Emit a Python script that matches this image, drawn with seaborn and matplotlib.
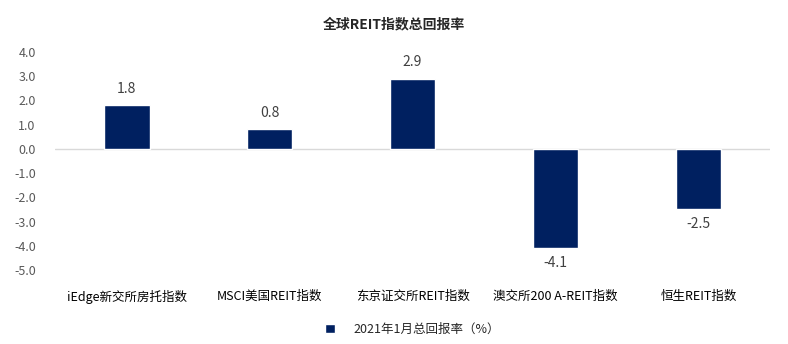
import matplotlib
matplotlib.use("Agg")
import matplotlib.pyplot as plt
import seaborn as sns
import pandas as pd

categories = ["iEdge新交所房托指数", "MSCI美国REIT指数", "东京证交所REIT指数", "澳交所200 A-REIT指数", "恒生REIT指数"]
values = [1.8, 0.8, 2.9, -4.1, -2.5]
series_name = "2021年1月总回报率（%）"
title = "全球REIT指数总回报率"
yticks = [4.0, 3.0, 2.0, 1.0, 0.0, -1.0, -2.0, -3.0, -4.0, -5.0]

sns.set_theme(style="white")
plt.rcParams['font.family'] = ['Noto Sans CJK SC', 'DejaVu Sans']

df = pd.DataFrame({"cat": categories, "val": values, "series": [series_name] * len(values)})

fig = plt.figure(figsize=(7.88, 3.44), dpi=100)
ax = fig.add_axes([0.07, 0.215, 0.907, 0.634])
sns.barplot(data=df, x="cat", y="val", hue="series", palette=["#002060"], saturation=1,
            width=0.32, ax=ax, legend=True)

ax.set_ylim(-5, 4)
ax.set_xlim(-0.5, 4.5)
ax.set_yticks(yticks)
ax.set_yticklabels([f"{t:.1f}" for t in yticks], fontsize=9, color="#595959")
ax.tick_params(axis="x", length=0, labelsize=9, colors="#000000", pad=14)
ax.tick_params(axis="y", length=0, pad=14)
ax.set_xlabel("")
ax.set_ylabel("")
for s in ax.spines.values():
    s.set_visible(False)
ax.axhline(0, color="#d9d9d9", lw=1, zorder=0)

for cont in ax.containers:
    for bar, v in zip(cont, values):
        x = bar.get_x() + bar.get_width() / 2
        if v >= 0:
            ax.text(x, v + 0.4, f"{v:.1f}", ha="center", va="bottom", fontsize=10, color="#404040")
        else:
            ax.text(x, v - 0.3, f"{v:.1f}", ha="center", va="top", fontsize=10, color="#404040")

leg = ax.legend(loc="upper center", bbox_to_anchor=(0.5, -0.19), frameon=False, fontsize=9,
                handlelength=0.8, handleheight=0.8, handletextpad=1.5)
fig.suptitle(title, y=0.95, fontsize=10, fontweight="bold")
fig.savefig("out.png", dpi=100)
